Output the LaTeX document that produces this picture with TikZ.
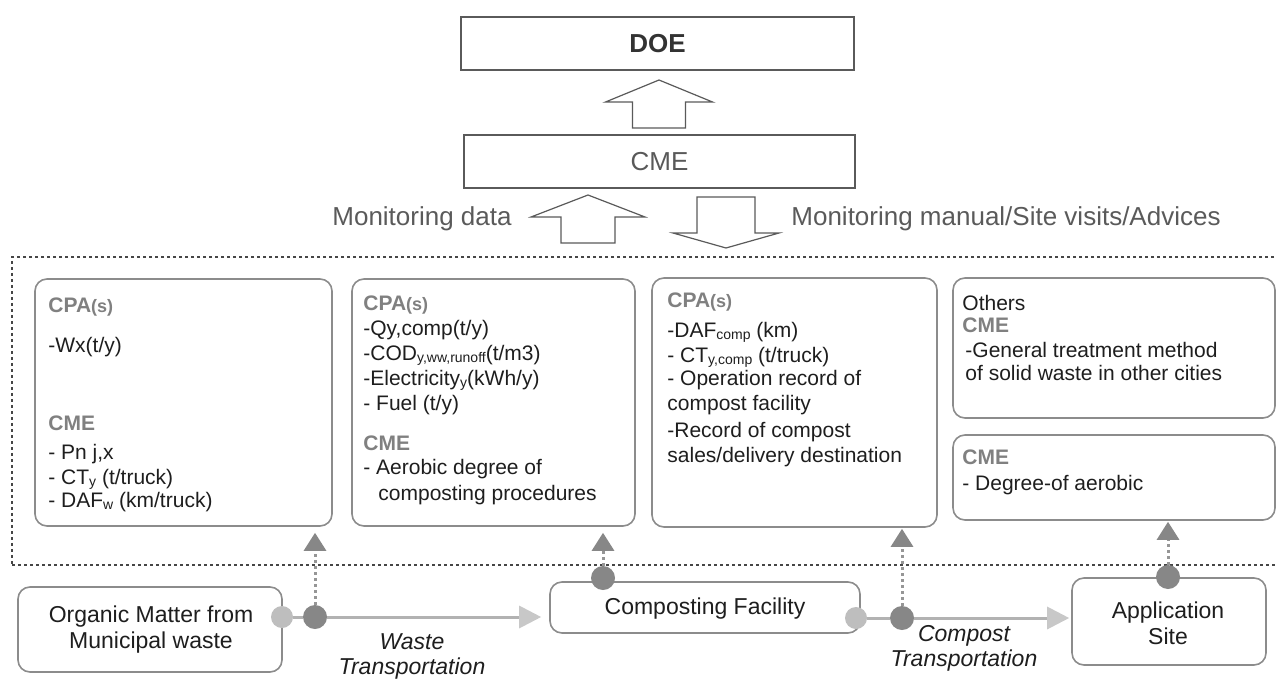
\documentclass[tikz,border=0pt]{standalone}
\usepackage{fontspec}
\setmainfont{Liberation Sans}
\usetikzlibrary{arrows.meta,fit}
\definecolor{boxgray}{RGB}{140,140,140}
\definecolor{hdgray}{RGB}{128,128,128}
\definecolor{topline}{RGB}{90,90,90}
\definecolor{txt}{RGB}{30,30,30}
\definecolor{lcol}{RGB}{190,190,190}
\definecolor{dcol}{RGB}{135,135,135}
\definecolor{hcol}{RGB}{178,178,178}
\definecolor{vcol}{RGB}{150,150,150}
\definecolor{dotcol}{RGB}{70,70,70}
\newcommand\sbs[1]{\raisebox{-0.25ex}{\fontsize{7}{8}\selectfont #1}}
\newcommand\cpas{CPA{\fontsize{9}{10}\selectfont(s)}}
\begin{document}
\begin{tikzpicture}[x=0.5pt,y=-0.5pt,
  box/.style={draw=boxgray, line width=0.8pt, rounded corners=6pt, inner sep=0pt, fill=white},
  topbox/.style={draw=topline, line width=0.7pt, inner sep=0pt},
  dotbox/.style={draw=dotcol, line width=1.3pt, dash pattern=on 1.6pt off 1.4pt, inner sep=0pt},
  ln/.style={anchor=base west, inner sep=0pt, text=txt, font=\fontsize{10.5}{12.5}\selectfont},
  hd/.style={anchor=base west, inner sep=0pt, text=hdgray, font=\fontsize{10.5}{12.5}\selectfont\bfseries},
  btxt/.style={inner sep=0pt, text=txt, align=center, font=\fontsize{11.5}{13}\selectfont},
  itxt/.style={inner sep=0pt, text=txt, align=center, font=\fontsize{11.5}{12.5}\selectfont\itshape},
  toptxt/.style={inner sep=0pt, text=topline, font=\fontsize{13}{15}\selectfont},
  bigarrow/.style={draw=topline, line width=0.6pt, fill=white},
  lcirc/.style={circle, fill=lcol, minimum size=11pt, inner sep=0pt},
  dcirc/.style={circle, fill=dcol, minimum size=12pt, inner sep=0pt},
  harrow/.style={draw=hcol, line width=1.5pt, -{Triangle[width=11pt,length=11pt,fill=lcol!85!white,color=lcol!85!white]}},
  hline/.style={draw=hcol, line width=1.5pt},
  varrow/.style={draw=vcol, line width=1.5pt, dash pattern=on 1.5pt off 1.5pt, -{Triangle[width=11pt,length=9pt,fill=dcol,color=dcol]}}
]
\useasboundingbox (0,0) rectangle (1277,679);

% top boxes
\node[topbox, fit={(461,17) (854,70)}] (doe) {};
\node[inner sep=0pt, text=black!80, font=\fontsize{13}{15}\selectfont\bfseries] (doet) at (doe.center) {DOE};
\node[topbox, fit={(464,135) (855,188)}] (cme) {};
\node[inner sep=0pt, text=black!65, font=\fontsize{13}{15}\selectfont] (cmet) at (cme.center) {CME};

% big hollow arrows
\draw[bigarrow] (632.5,128) -- (685.5,128) -- (685.5,102) -- (712.5,102) -- (659,80) -- (605.5,102) -- (632.5,102) -- cycle;
\draw[bigarrow] (561,243) -- (615,243) -- (615,217) -- (645,217) -- (588,195) -- (531,217) -- (561,217) -- cycle;
\draw[bigarrow] (697,197) -- (755,197) -- (755,233) -- (779,233) -- (726,248) -- (673,233) -- (697,233) -- cycle;

\node[toptxt, anchor=east] (mdata) at (512,219) {Monitoring data};
\node[toptxt, anchor=west] (mman) at (791,219) {Monitoring manual/Site visits/Advices};

% dotted group (right side runs off the page, as in the reference)
\node[dotbox, fit={(12,257) (1290,565)}] (grp) {};

% upper boxes
\node[box, fit={(35,279) (332,526)}] (b1) {};
\node[box, fit={(352,279) (635,526)}] (b2) {};
\node[box, fit={(652,278) (937,527)}] (b3) {};
\node[box, fit={(953,278) (1275,418)}] (b4) {};
\node[box, fit={(953,435) (1275,520)}] (b5) {};

% box 1 text
\node[hd] (b1h1) at (48,312) {\cpas};
\node[ln] (b1l1) at (48,352) {-Wx(t/y)};
\node[hd] (b1h2) at (48,430) {CME};
\node[ln] (b1l2) at (48,459) {- Pn j,x};
\node[ln] (b1l3) at (48,484) {- CT\sbs{y} (t/truck)};
\node[ln] (b1l4) at (48,507) {- DAF\sbs{w} (km/truck)};

% box 2 text
\node[hd] (b2h1) at (363,310) {\cpas};
\node[ln] (b2l1) at (363,335) {-Qy,comp(t/y)};
\node[ln] (b2l2) at (363,360) {-COD\sbs{y,ww,runoff}(t/m3)};
\node[ln] (b2l3) at (363,385) {-Electricity\sbs{y}(kWh/y)};
\node[ln] (b2l4) at (363,410) {- Fuel (t/y)};
\node[hd] (b2h2) at (363,450) {CME};
\node[ln] (b2l5) at (363,474) {- Aerobic degree of};
\node[ln] (b2l6) at (378,500) {composting procedures};

% box 3 text
\node[hd] (b3h1) at (667,307) {\cpas};
\node[ln] (b3l1) at (667,337) {-DAF\sbs{comp} (km)};
\node[ln] (b3l2) at (667,362) {- CT\sbs{y,comp} (t/truck)};
\node[ln] (b3l3) at (667,385) {- Operation record of};
\node[ln] (b3l4) at (667,410) {compost facility};
\node[ln] (b3l5) at (667,437) {-Record of compost};
\node[ln] (b3l6) at (667,462) {sales/delivery destination};

% box 4 text
\node[ln] (b4l0) at (962,310) {Others};
\node[hd] (b4h1) at (962,332) {CME};
\node[ln] (b4l1) at (965,357) {-General treatment method};
\node[ln] (b4l2) at (965,380) {of solid waste in other cities};

% box 5 text
\node[hd] (b5h1) at (962,464) {CME};
\node[ln] (b5l1) at (962,490) {- Degree-of aerobic};

% lower process boxes
\node[box, fit={(18,587) (282,672)}] (org) {};
\node[btxt] (orgt) at (151,630) {Organic Matter from\\Municipal waste};
\node[box, fit={(550,582) (860,633)}] (comp) {};
\node[btxt] (compt) at (705,609) {Composting Facility};
\node[box, fit={(1072,578) (1266,665)}] (app) {};
\node[btxt] (appt) at (1168,623) {Application\\Site};

% circles
\node[lcirc] (l1) at (282,617) {};
\node[dcirc] (d1) at (315,617) {};
\node[dcirc] (c2) at (603,578) {};
\node[lcirc] (l2) at (856,618) {};
\node[dcirc] (d2) at (902,618) {};
\node[dcirc] (c3) at (1168,577) {};

% connectors
\draw[hline] (l1) -- (d1);
\draw[harrow, shorten >=4pt] (d1) -- (d1 -| comp.west);
\draw[hline] (l2) -- (d2);
\draw[harrow, shorten >=1pt] (d2) -- (d2 -| app.west);
\draw[varrow, shorten >=3pt] (d1) -- (d1 |- b1.south);
\draw[varrow, shorten >=3pt] (c2) -- (c2 |- b2.south);
\draw[varrow, shorten >=0.5pt] (d2) -- (d2 |- b3.south);
\draw[varrow, shorten >=0.5pt] (c3) -- (c3 |- b5.south);

% transport labels
\node[itxt] (wt) at (412,656) {Waste\\Transportation};
\node[itxt] (ct) at (964,648) {Compost\\Transportation};
\end{tikzpicture}
\end{document}
